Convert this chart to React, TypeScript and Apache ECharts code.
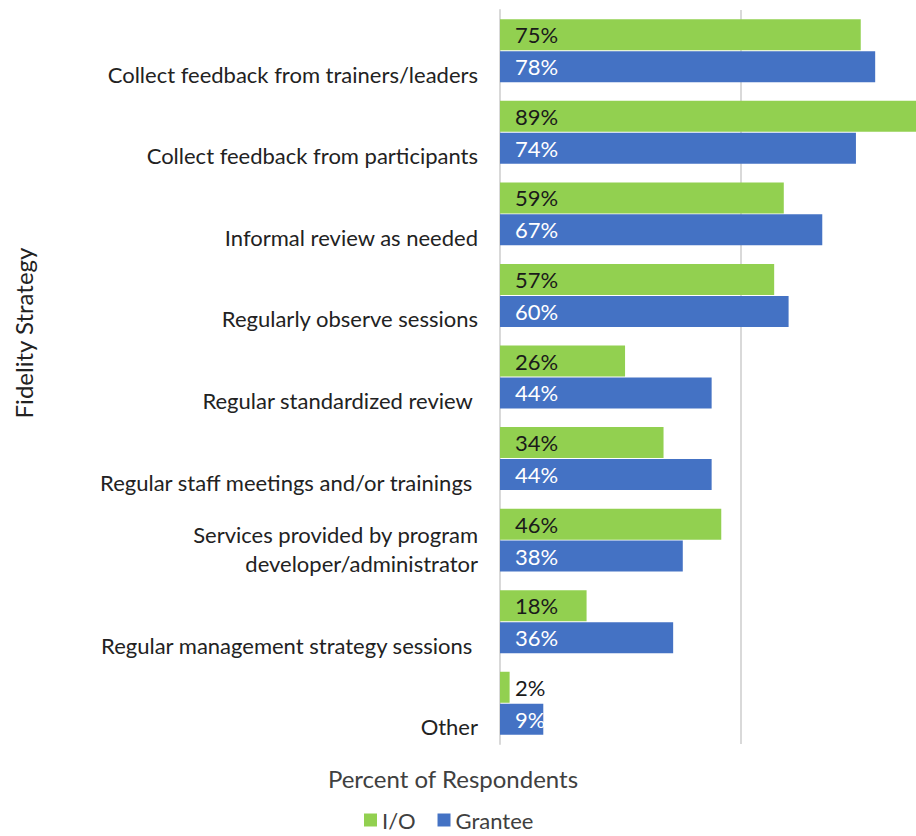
import React, { useEffect, useRef } from "react";
import * as echarts from "echarts";

const categories = [
  "Collect feedback from trainers/leaders",
  "Collect feedback from participants",
  "Informal review as needed",
  "Regularly observe sessions",
  "Regular standardized review ",
  "Regular staff meetings and/or trainings ",
  "Services provided by program\ndeveloper/administrator",
  "Regular management strategy sessions ",
  "Other",
];
const ioValues = [75, 89, 59, 57, 26, 34, 46, 18, 2];
const granteeValues = [78, 74, 67, 60, 44, 44, 38, 36, 9];
const seriesNames = ["I/O", "Grantee"];
const axisTitleX = "Percent of Respondents";
const axisTitleY = "Fidelity Strategy";

const FONT = "Lato";

export default function App() {
  const ref = useRef<HTMLDivElement>(null);
  useEffect(() => {
    if (!ref.current) return;
    const chart = echarts.init(ref.current, undefined, { renderer: "svg" });
    chart.setOption({
      animation: false,
      textStyle: { fontFamily: FONT },
      grid: { left: 500, right: 19, top: 10, bottom: 92, containLabel: false },
      legend: {
        data: seriesNames,
        left: 364,
        top: 807,
        padding: 0,
        itemWidth: 13,
        itemHeight: 13,
        itemGap: 22,
        icon: "rect",
        textStyle: { fontFamily: FONT, fontSize: 22, lineHeight: 26, color: "#404040" },
      },
      xAxis: {
        type: "value",
        min: 0,
        max: 100,
        interval: 50,
        axisLabel: { show: false },
        axisLine: { show: false },
        axisTick: { show: false },
        splitLine: { show: true, lineStyle: { color: "#D9D9D9", width: 2 } },
      },
      yAxis: {
        type: "category",
        data: categories,
        inverse: true,
        axisLine: { show: true, lineStyle: { color: "#D9D9D9", width: 2 } },
        axisTick: { show: false },
        axisLabel: {
          margin: 22,
          fontFamily: FONT,
          fontSize: 22,
          color: "#222",
          align: "right",
          verticalAlign: "bottom",
          lineHeight: 29,
          padding: [0, 0, -38, 0],
        },
      },
      series: [
        {
          name: seriesNames[0],
          type: "bar",
          data: ioValues,
          barWidth: 31,
          barGap: "3%",
          itemStyle: { color: "#92D050" },
          label: {
            show: true,
            position: "insideLeft",
            distance: 15,
            formatter: "{c}%",
            fontFamily: FONT,
            fontSize: 22,
            color: "#1a1a1a",
          },
        },
        {
          name: seriesNames[1],
          type: "bar",
          data: granteeValues,
          barWidth: 31,
          barGap: "3%",
          itemStyle: { color: "#4472C4" },
          label: {
            show: true,
            position: "insideLeft",
            distance: 15,
            formatter: "{c}%",
            fontFamily: FONT,
            fontSize: 22,
            color: "#ffffff",
          },
        },
      ],
      graphic: [
        {
          type: "text",
          x: 453,
          y: 778,
          style: {
            text: axisTitleX,
            fontFamily: FONT,
            fontSize: 24,
            fill: "#404040",
            align: "center",
            verticalAlign: "middle",
          },
        },
        {
          type: "text",
          x: 23,
          y: 333,
          rotation: Math.PI / 2,
          style: {
            text: axisTitleY,
            fontFamily: FONT,
            fontSize: 24,
            fill: "#222",
            align: "center",
            verticalAlign: "middle",
          },
        },
      ],
    });
    return () => chart.dispose();
  }, []);
  return (
    <div style={{ position: "absolute", left: 0, top: 0, width: 916, height: 836, overflow: "hidden" }}>
      <div ref={ref} style={{ width: 1000, height: 836 }} />
    </div>
  );
}
